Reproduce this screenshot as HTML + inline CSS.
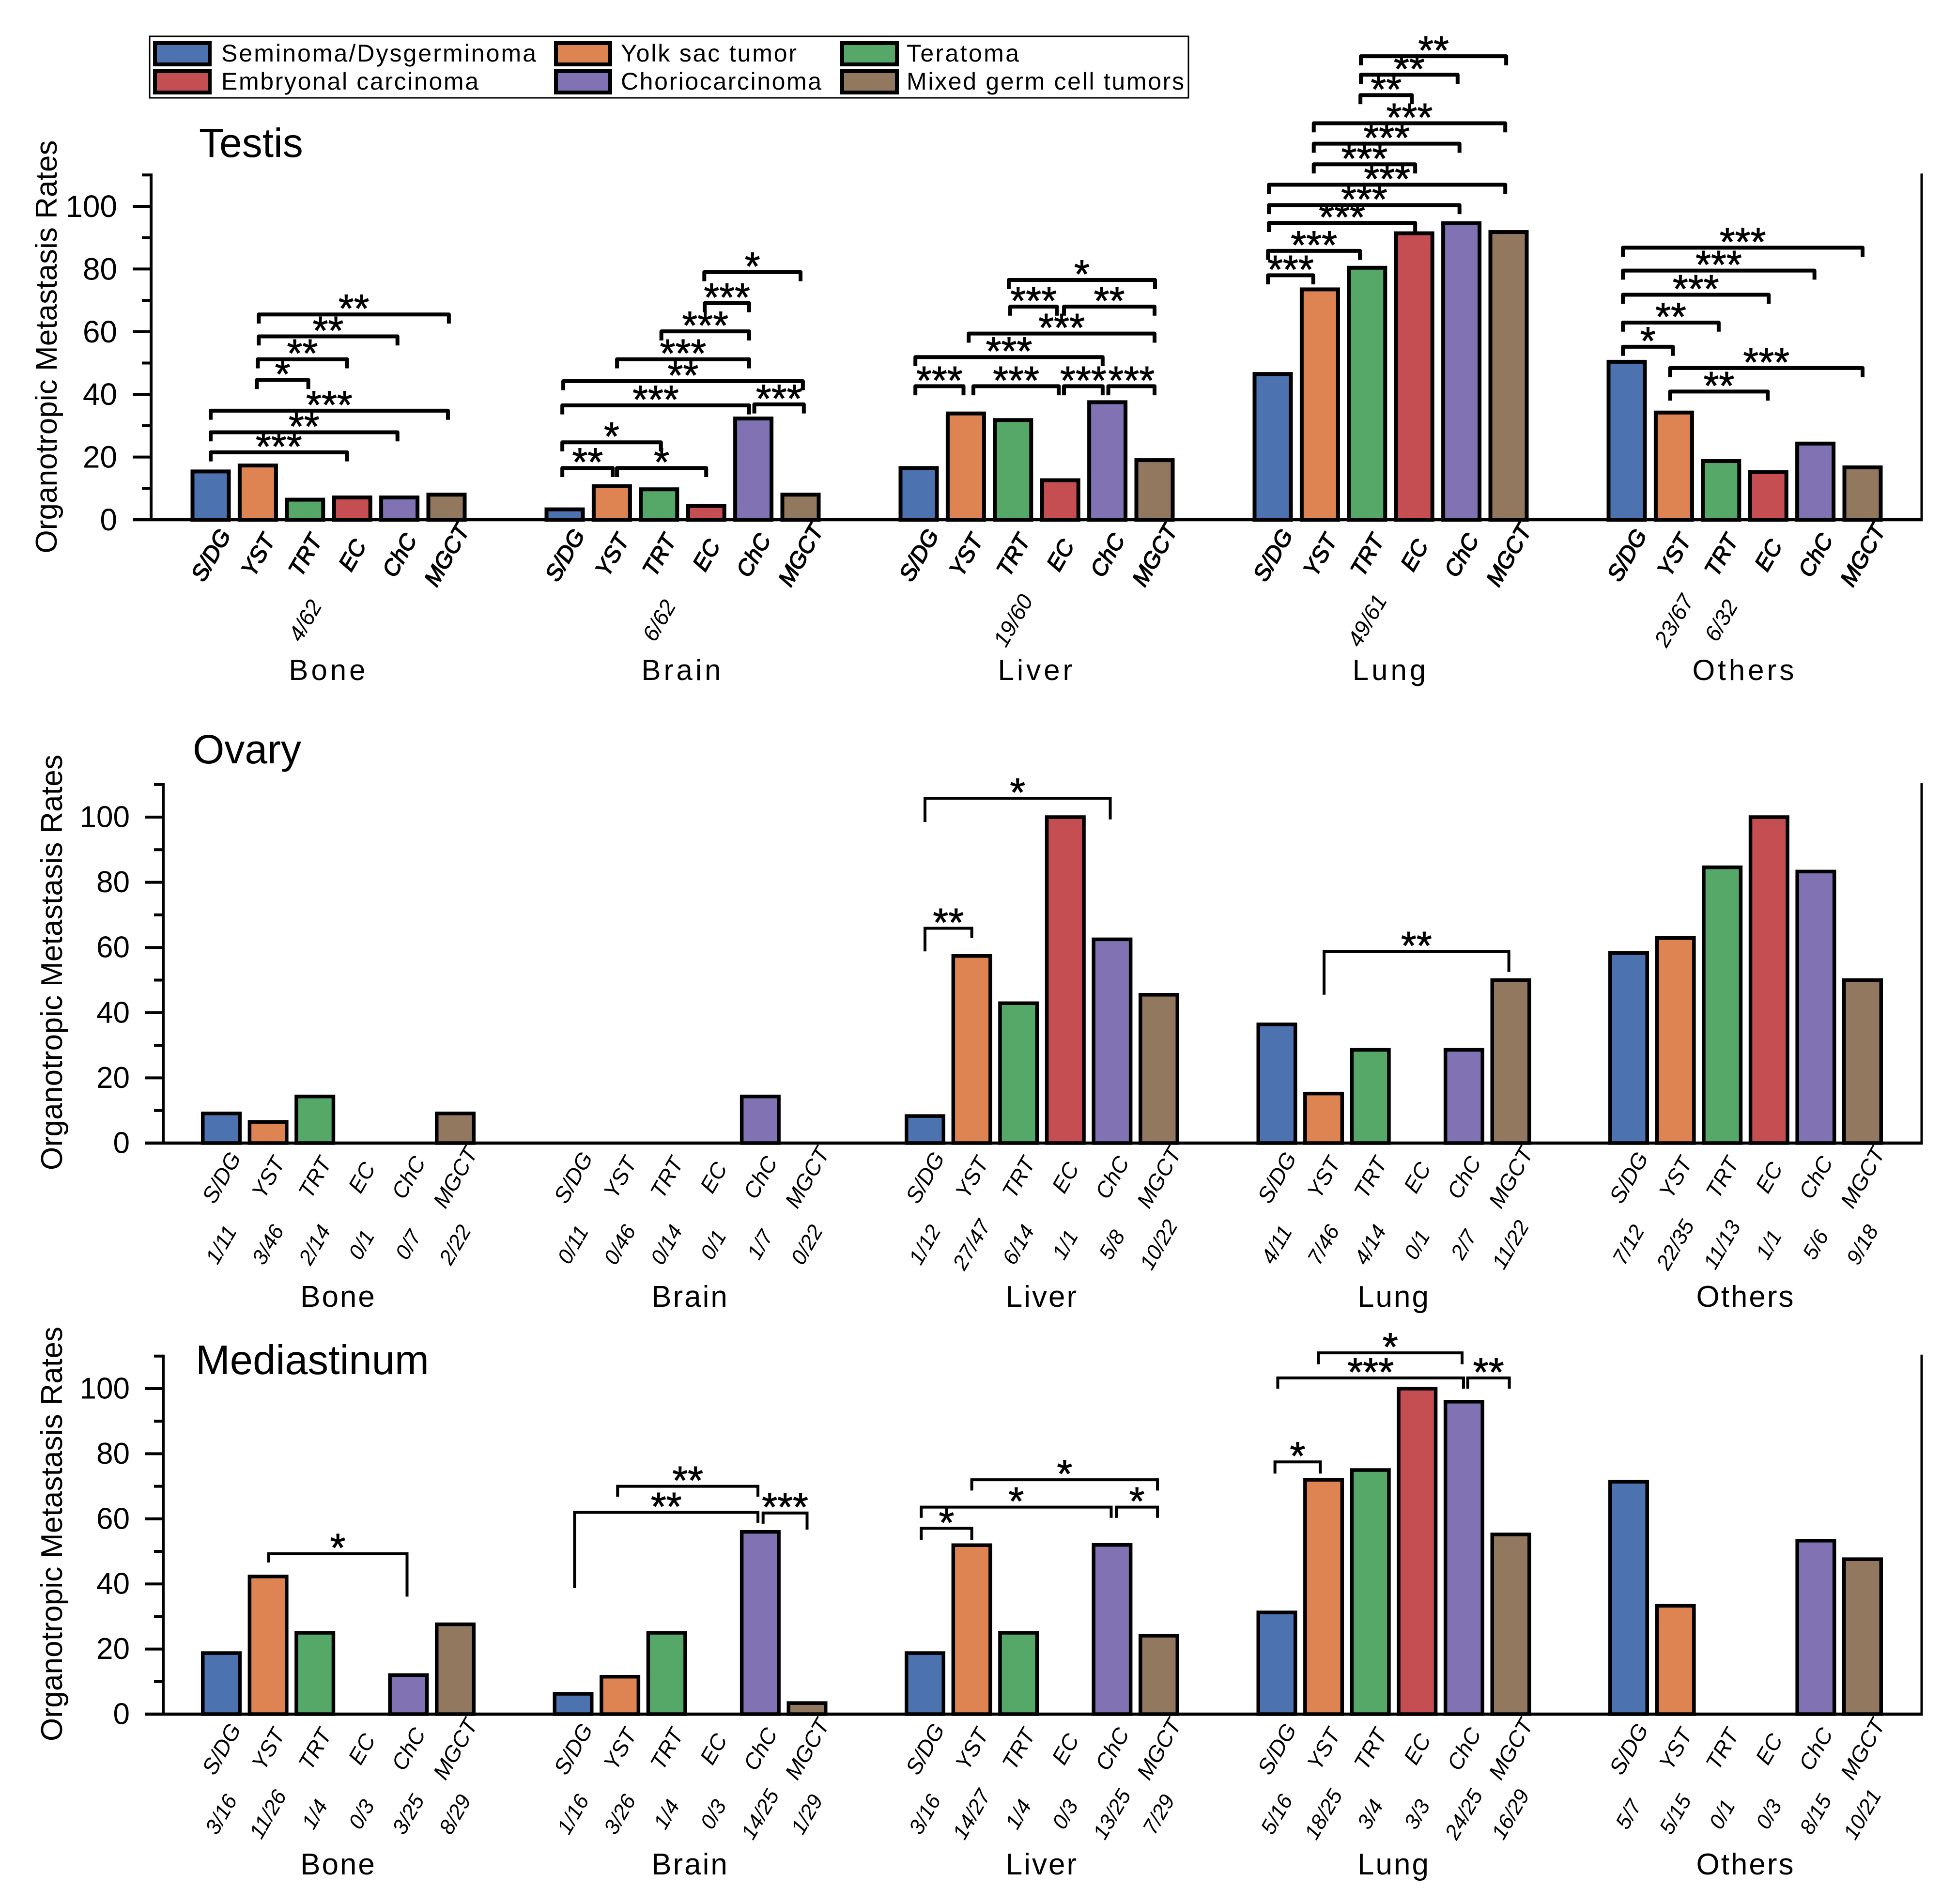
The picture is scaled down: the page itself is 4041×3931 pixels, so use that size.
<!DOCTYPE html>
<html lang="en">
<head>
<meta charset="utf-8">
<title>Organotropic Metastasis Rates</title>
<style>
html,body{margin:0;padding:0;background:#fff;}
svg{display:block;}
text{font-family:"Liberation Sans",sans-serif;fill:#000;}
</style>
</head>
<body>
<svg id="chart" xmlns="http://www.w3.org/2000/svg" width="4041" height="3931" viewBox="0 0 4041 3931">
  <rect x="0" y="0" width="4041" height="3931" fill="#ffffff"/>
  <g>
    <rect x="309" y="75" width="2145" height="127" fill="none" stroke="#000" stroke-width="3"/>
    <rect x="320" y="89" width="113" height="44" fill="#4c72b0" stroke="#000" stroke-width="8"/>
    <rect x="320" y="147" width="113" height="44" fill="#c44e52" stroke="#000" stroke-width="8"/>
    <rect x="1148" y="89" width="112" height="44" fill="#dd8452" stroke="#000" stroke-width="8"/>
    <rect x="1148" y="147" width="112" height="44" fill="#8172b3" stroke="#000" stroke-width="8"/>
    <rect x="1739" y="89" width="113" height="44" fill="#55a868" stroke="#000" stroke-width="8"/>
    <rect x="1739" y="147" width="113" height="44" fill="#937860" stroke="#000" stroke-width="8"/>
    <text x="457" y="127" font-size="50" textLength="650" lengthAdjust="spacing">Seminoma/Dysgerminoma</text>
    <text x="457" y="185" font-size="50" textLength="531" lengthAdjust="spacing">Embryonal carcinoma</text>
    <text x="1282" y="127" font-size="50" textLength="363" lengthAdjust="spacing">Yolk sac tumor</text>
    <text x="1282" y="185" font-size="50" textLength="414" lengthAdjust="spacing">Choriocarcinoma</text>
    <text x="1872" y="127" font-size="50" textLength="232" lengthAdjust="spacing">Teratoma</text>
    <text x="1872" y="185" font-size="50" textLength="573" lengthAdjust="spacing">Mixed germ cell tumors</text>
  </g>
  <text x="411" y="324" font-size="84">Testis</text>
  <text x="398" y="1576" font-size="84">Ovary</text>
  <text x="404" y="2837" font-size="85">Mediastinum</text>
  <text transform="translate(117,716) rotate(-90)" text-anchor="middle" font-size="62" textLength="853" lengthAdjust="spacing">Organotropic Metastasis Rates</text>
  <text transform="translate(128,1987) rotate(-90)" text-anchor="middle" font-size="62" textLength="858" lengthAdjust="spacing">Organotropic Metastasis Rates</text>
  <text transform="translate(128,3167) rotate(-90)" text-anchor="middle" font-size="62" textLength="856" lengthAdjust="spacing">Organotropic Metastasis Rates</text>
</svg>
<script>
// ---- data ----
const organs = ['Bone', 'Brain', 'Liver', 'Lung', 'Others'];
const categories = ['S/DG', 'YST', 'TRT', 'EC', 'ChC', 'MGCT'];
const colors = ['#4c72b0', '#dd8452', '#55a868', '#c44e52', '#8172b3', '#937860'];
const majorTicks = [0, 20, 40, 60, 80, 100];
const minorTicks = [10, 30, 50, 70, 90, 110];

const testisValues = [
  [15.4, 17.3, 6.4, 7.1, 7.1, 8.0],
  [3.3, 10.7, 9.7, 4.4, 32.3, 8.0],
  [16.5, 33.9, 31.8, 12.6, 37.5, 19.0],
  [46.5, 73.5, 80.4, 91.4, 94.6, 91.8],
  [50.4, 34.2, 18.7, 15.2, 24.3, 16.7]
];
const ovaryValues = [
  [9.1, 6.5, 14.3, 0, 0, 9.1],
  [0, 0, 0, 0, 14.3, 0],
  [8.3, 57.4, 42.9, 100, 62.5, 45.5],
  [36.4, 15.2, 28.6, 0, 28.6, 50],
  [58.3, 62.9, 84.6, 100, 83.3, 50]
];
const mediastinumValues = [
  [18.75, 42.3, 25, 0, 12, 27.6],
  [6.25, 11.5, 25, 0, 56, 3.4],
  [18.75, 51.9, 25, 0, 52, 24.1],
  [31.25, 72, 75, 100, 96, 55.2],
  [71.4, 33.3, 0, 0, 53.3, 47.6]
];

// printed case counts: [organ, category, label]
const testisCounts = [
  [0, 2, '4/62'], [1, 2, '6/62'], [2, 2, '19/60'], [3, 2, '49/61'], [4, 1, '23/67'], [4, 2, '6/32']
];
const ovaryCounts = [
  ['1/11', '3/46', '2/14', '0/1', '0/7', '2/22'],
  ['0/11', '0/46', '0/14', '0/1', '1/7', '0/22'],
  ['1/12', '27/47', '6/14', '1/1', '5/8', '10/22'],
  ['4/11', '7/46', '4/14', '0/1', '2/7', '11/22'],
  ['7/12', '22/35', '11/13', '1/1', '5/6', '9/18']
];
const mediastinumCounts = [
  ['3/16', '11/26', '1/4', '0/3', '3/25', '8/29'],
  ['1/16', '3/26', '1/4', '0/3', '14/25', '1/29'],
  ['3/16', '14/27', '1/4', '0/3', '13/25', '7/29'],
  ['5/16', '18/25', '3/4', '3/3', '24/25', '16/29'],
  ['5/7', '5/15', '0/1', '0/3', '8/15', '10/21']
];

// significance brackets: [organ, from category, to category, level, stars, left drop, right drop]
const testisBrackets = [
  [0, 0, 2.89, 21.5, '***', 2.9, 2.9], [0, 0, 3.96, 27.9, '**', 2.9, 2.9], [0, 0, 5.03, 34.8, '***', 2.9, 2.9],
  [0, 0.98, 2.07, 44.6, '*', 2.9, 2.9], [0, 1, 2.89, 51.2, '**', 2.9, 2.9], [0, 1.02, 3.96, 58.5, '**', 2.9, 2.9],
  [0, 1.02, 5.05, 65.5, '**', 2.9, 2.9],
  [1, -0.05, 1.02, 16.5, '**', 2.9, 2.9], [1, 1.11, 3, 16.5, '*', 2.9, 2.9], [1, -0.05, 2.04, 24.7, '*', 2.9, 2.9],
  [1, -0.05, 3.91, 36.5, '***', 2.9, 2.9], [1, 4.02, 5.07, 36.8, '***', 2.9, 2.9], [1, -0.03, 5.05, 44.2, '**', 2.9, 2.9],
  [1, 1.11, 3.91, 51.2, '***', 2.9, 2.9], [1, 2.05, 3.91, 60.1, '***', 2.9, 2.9], [1, 2.97, 3.91, 69.1, '***', 2.9, 2.9],
  [1, 2.96, 5, 79, '*', 2.9, 2.9],
  [2, -0.07, 0.95, 42.6, '***', 2.9, 2.9], [2, 1.16, 2.97, 42.6, '***', 2.9, 2.9], [2, 3.08, 3.9, 42.6, '***', 2.9, 2.9],
  [2, 4.02, 5, 42.6, '***', 2.9, 2.9], [2, -0.07, 3.9, 51.9, '***', 2.9, 2.9], [2, 1.06, 5, 59.4, '***', 2.9, 2.9],
  [2, 1.94, 2.93, 68, '***', 2.9, 2.9], [2, 3.08, 5, 68, '**', 2.9, 2.9], [2, 1.91, 5.01, 76.5, '*', 2.9, 2.9],
  [3, -0.1, 0.86, 78, '***', 2.9, 2.9], [3, -0.1, 1.85, 85.8, '***', 2.9, 2.9], [3, -0.08, 3.02, 94.7, '***', 2.9, 2.9],
  [3, -0.08, 3.96, 100.4, '***', 2.9, 2.9], [3, -0.08, 4.93, 106.9, '***', 2.9, 2.9], [3, 0.87, 3.02, 113.4, '***', 2.9, 2.9],
  [3, 0.87, 3.96, 120, '***', 2.9, 2.9], [3, 0.87, 4.93, 126.5, '***', 2.9, 2.9], [3, 1.86, 2.95, 135.5, '**', 2.9, 2.9],
  [3, 1.87, 3.92, 142, '**', 2.9, 2.9], [3, 1.87, 4.95, 147.9, '**', 2.9, 2.9],
  [4, -0.08, 0.98, 55.2, '*', 2.9, 2.9], [4, -0.08, 1.95, 62.9, '**', 2.9, 2.9], [4, -0.08, 3.01, 71.8, '***', 2.9, 2.9],
  [4, -0.08, 3.98, 79.5, '***', 2.9, 2.9], [4, -0.08, 5, 86.8, '***', 2.9, 2.9], [4, 0.92, 2.99, 40.9, '**', 2.9, 2.9],
  [4, 0.92, 5, 48.4, '***', 2.9, 2.9]
];
const ovaryBrackets = [
  [2, 0, 1, 65.9, '**', 7.1, 3],
  [2, 0, 3.96, 105.8, '*', 7.3, 6.5],
  [3, 1.01, 4.96, 58.8, '**', 13.3, 6.3]
];
const mediastinumBrackets = [
  [0, 1.01, 3.97, 49.3, '*', 2.7, 13.2],
  [1, 0.03, 3.95, 62, '**', 23.2, 3.2], [1, 0.95, 3.95, 70, '**', 3.2, 3.2], [1, 4.06, 5, 61.8, '***', 3.3, 5.1],
  [2, -0.08, 1, 57.1, '*', 3.6, 3.6], [2, -0.08, 3.98, 63.6, '*', 3.3, 3.3], [2, 4.09, 4.97, 63.6, '*', 3.3, 3.3],
  [2, 1, 4.97, 72, '*', 3.3, 3.3],
  [3, -0.04, 0.93, 77.5, '*', 3.6, 3.6], [3, 0.02, 3.99, 103.3, '***', 3.3, 3.3], [3, 4.08, 4.97, 103.3, '**', 3.3, 3.3],
  [3, 0.89, 3.96, 111, '*', 3.5, 3.5]
];

// ---- layout ----
const testisLayout = {
  key: 'testis', x0: 435, groupStep: 731, barStep: 97.4, y0: 1073, y100: 426, axisX: 312, rightX: 3968,
  tickLabelX: 242, tickFont: 64, barW: 75, barStroke: 8, catY: 1146, catStroke: 1.6, catFont: 47,
  countY: 1281, countFont: 46, organY: 1404, organFont: 60, organSpacing: 6, bracketStroke: 8, bracketJoin: 'round'
};
const ovaryLayout = {
  key: 'ovary', x0: 457, groupStep: 726.5, barStep: 96.6, y0: 2360, y100: 1687, axisX: 337, rightX: 3968,
  tickLabelX: 268, tickFont: 62, barW: 76.5, barStroke: 7.5, catY: 2431, catStroke: 0, catFont: 46,
  countY: 2570, countFont: 44, organY: 2698, organFont: 62, organSpacing: 3, bracketStroke: 6, bracketJoin: 'miter'
};
const mediastinumLayout = {
  key: 'mediastinum', x0: 457, groupStep: 726.5, barStep: 96.6, y0: 3539, y100: 2867, axisX: 337, rightX: 3968,
  tickLabelX: 268, tickFont: 62, barW: 76.5, barStroke: 7.5, catY: 3611, catStroke: 0, catFont: 46,
  countY: 3746, countFont: 44, organY: 3870, organFont: 62, organSpacing: 3, bracketStroke: 6, bracketJoin: 'miter'
};

// ---- drawing ----
const svg = document.getElementById('chart');
const NS = 'http://www.w3.org/2000/svg';

function make(tag, attrs, parent) {
  const el = document.createElementNS(NS, tag);
  for (const k in attrs) el.setAttribute(k, attrs[k]);
  parent.appendChild(el);
  return el;
}
function xScale(p, organ, cat) { return p.x0 + p.groupStep * organ + p.barStep * cat; }
function yScale(p, v) { return p.y0 - (p.y0 - p.y100) * v / 100; }
function slug(s) { return s.toLowerCase().replace(/[^a-z0-9]+/g, '-'); }

function drawAxes(p, group) {
  const top = yScale(p, 110);
  const left = make('line', { x1: p.axisX, x2: p.axisX, y1: top - 3, y2: p.y0, stroke: '#000', 'stroke-width': 6 }, group);
  
  
  const right = make('line', { x1: p.rightX, x2: p.rightX, y1: top - 3, y2: p.y0 + 3, stroke: '#000', 'stroke-width': 5 }, group);
  
  
  majorTicks.forEach(function (t) {
    const tick = make('line', { x1: p.axisX - 38, x2: p.axisX, y1: yScale(p, t), y2: yScale(p, t), stroke: '#000', 'stroke-width': 6 }, group);
    
    
    const label = make('text', { x: p.tickLabelX, y: yScale(p, t), 'text-anchor': 'end', 'font-size': p.tickFont, 'dominant-baseline': 'central' }, group);
    label.textContent = t;
    
    
  });
  minorTicks.forEach(function (t) {
    const tick = make('line', { x1: p.axisX - 19, x2: p.axisX, y1: yScale(p, t), y2: yScale(p, t), stroke: '#000', 'stroke-width': 6 }, group);
    
    
  });
}

function drawBars(p, values, group) {
  values.forEach(function (row, g) {
    row.forEach(function (v, i) {
      const y = yScale(p, v);
      const bar = make('rect', {
        x: xScale(p, g, i) - p.barW / 2, y: y, width: p.barW, height: p.y0 - y,
        fill: colors[i], stroke: '#000', 'stroke-width': p.barStroke
      }, group);
      
      
    });
  });
}

function drawBaseline(p, group) {
  const base = make('line', { x1: p.axisX - 38, x2: p.rightX + 2.5, y1: p.y0, y2: p.y0, stroke: '#000', 'stroke-width': 6.5 }, group);
  
  
}

function rotatedLabel(x, y, size, strokeW, group) {
  const t = make('text', {
    transform: 'translate(' + x + ',' + y + ') rotate(-60)', 'text-anchor': 'middle',
    'dominant-baseline': 'central', 'font-size': size, 'font-style': 'italic'
  }, group);
  if (strokeW > 0) {
    t.setAttribute('stroke', '#000');
    t.setAttribute('stroke-width', strokeW);
  }
  return t;
}

function drawLabels(p, group) {
  organs.forEach(function (org, g) {
    categories.forEach(function (c, i) {
      const t = rotatedLabel(xScale(p, g, i), p.catY, p.catFont, p.catStroke, group);
      t.textContent = c;
      
      
    });
    const o = make('text', {
      x: xScale(p, g, 2.5), y: p.organY, 'text-anchor': 'middle', 'font-size': p.organFont, 'letter-spacing': p.organSpacing
    }, group);
    o.textContent = org;
    
    
  });
}

function drawCountGrid(p, counts, group) {
  counts.forEach(function (row, g) {
    row.forEach(function (c, i) {
      const t = rotatedLabel(xScale(p, g, i), p.countY, p.countFont, 0, group);
      t.textContent = c;
      
      
    });
  });
}

function drawCountList(p, counts, group) {
  counts.forEach(function (entry) {
    const t = rotatedLabel(xScale(p, entry[0], entry[1]), p.countY, p.countFont, 0, group);
    t.textContent = entry[2];
    
    
  });
}

function drawBrackets(p, brackets, group) {
  brackets.forEach(function (b, n) {
    const xa = xScale(p, b[0], b[1]);
    const xb = xScale(p, b[0], b[2]);
    const y = yScale(p, b[3]);
    const yl = yScale(p, b[3] - b[5]);
    const yr = yScale(p, b[3] - b[6]);
    const path = make('path', {
      d: 'M' + xa + ' ' + yl + 'V' + y + 'H' + xb + 'V' + yr,
      fill: 'none', stroke: '#000', 'stroke-width': p.bracketStroke, 'stroke-linejoin': p.bracketJoin
    }, group);
    
    
    const star = make('text', {
      x: (xa + xb) / 2, y: y + 16, 'text-anchor': 'middle', 'font-size': 82, stroke: '#000', 'stroke-width': 1
    }, group);
    star.textContent = b[4];
    
    
  });
}

function panel(p, values, brackets) {
  const g = make('g', {}, svg);
  
  
  drawBars(p, values, g);
  drawAxes(p, g);
  drawBaseline(p, g);
  drawLabels(p, g);
  drawBrackets(p, brackets, g);
  return g;
}

const testisGroup = panel(testisLayout, testisValues, testisBrackets);
drawCountList(testisLayout, testisCounts, testisGroup);
const ovaryGroup = panel(ovaryLayout, ovaryValues, ovaryBrackets);
drawCountGrid(ovaryLayout, ovaryCounts, ovaryGroup);
const mediastinumGroup = panel(mediastinumLayout, mediastinumValues, mediastinumBrackets);
drawCountGrid(mediastinumLayout, mediastinumCounts, mediastinumGroup);
</script>
</body>
</html>
